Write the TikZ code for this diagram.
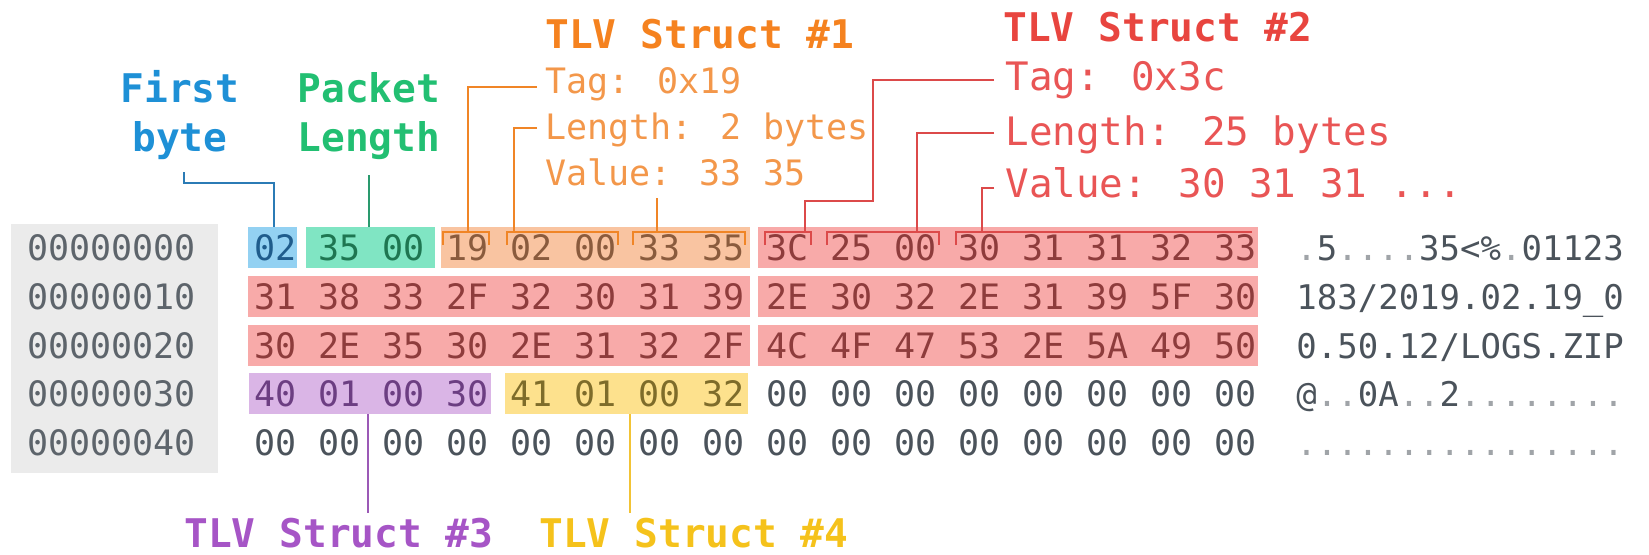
\documentclass[tikz,border=0pt]{standalone}
\usepackage{fontspec}
\newfontfamily\monofnt{DejaVu Sans Mono}

% fills of the highlighted byte ranges
\definecolor{boxB}{HTML}{93D1F2}
\definecolor{boxG}{HTML}{80E5C3}
\definecolor{boxO}{HTML}{F9C4A1}
\definecolor{boxR}{HTML}{F8AAA9}
\definecolor{boxP}{HTML}{DAB5E6}
\definecolor{boxY}{HTML}{FDE18D}
\definecolor{boxGray}{HTML}{EBEBEB}
% byte text colours
\definecolor{tB}{HTML}{1F5C8C}
\definecolor{tG}{HTML}{1E7651}
\definecolor{tO}{HTML}{8A5B3D}
\definecolor{tR}{HTML}{8E3C3C}
\definecolor{tP}{HTML}{6C3E82}
\definecolor{tY}{HTML}{7E6C2A}
\definecolor{tN}{HTML}{4B535B}
\definecolor{dotc}{HTML}{A0A4A8}
% label and leader colours
\definecolor{cB}{HTML}{1E90D6}
\definecolor{lB}{HTML}{2B7BB5}
\definecolor{cG}{HTML}{22BF72}
\definecolor{lG}{HTML}{2A9A6E}
\definecolor{cO}{HTML}{F5821F}
\definecolor{aO}{HTML}{F3974A}
\definecolor{lO}{HTML}{F08526}
\definecolor{cR}{HTML}{E8453F}
\definecolor{aR}{HTML}{E95555}
\definecolor{lR}{HTML}{DC4A4A}
\definecolor{cP}{HTML}{A655C6}
\definecolor{lP}{HTML}{9B59B6}
\definecolor{cY}{HTML}{F5C21B}
\definecolor{lY}{HTML}{F2C335}

% a non-printable byte in the ASCII column
\newcommand\npc{{\color{dotc}.}}

\begin{document}
\begin{tikzpicture}[x=0.5pt,y=-0.5pt,
  hexnum/.style={anchor=base west, inner sep=0pt, font=\monofnt\fontsize{17.5}{17.5}\selectfont},
  ascii/.style={anchor=base west, inner sep=0pt, font=\monofnt\fontsize{17}{17}\selectfont},
  annot/.style={anchor=base west, inner sep=0pt, font=\monofnt\fontsize{17.5}{17.5}\selectfont},
  annotbig/.style={anchor=base west, inner sep=0pt, font=\monofnt\fontsize{19.6}{19.6}\selectfont},
  heading/.style={inner sep=0pt, font=\monofnt\bfseries\fontsize{19.75}{19.75}\selectfont},
  lead/.style={line width=0.9pt},
  brk/.style={line width=0.9pt}
]
\useasboundingbox (0,0) rectangle (1649,554);

% ---------- background ranges ----------
\fill[boxGray] (11,224) rectangle (218,473);
\fill[boxB] (248,227) rectangle (297,268);
\fill[boxG] (306,227) rectangle (435,268);
\fill[boxO] (441,227) rectangle (750,268);
\fill[boxR] (758,227) rectangle (1258,268);
\foreach \r in {1,2}{
  \fill[boxR] (248,{227+48.75*\r}) rectangle (750,{268+48.75*\r});
  \fill[boxR] (758,{227+48.75*\r}) rectangle (1258,{268+48.75*\r});
}
\fill[boxP] (249,373.25) rectangle (491,414.25);
\fill[boxY] (505,373.25) rectangle (748,414.25);

% ---------- offsets ----------
\foreach \o [count=\r from 0] in {00000000,00000010,00000020,00000030,00000040}
  \node[hexnum,text=tN!90] (off\r) at (27,{260.7+48.75*\r}) {\o};

% ---------- hex bytes ----------
\foreach \v/\cl [count=\c from 0] in {02/tB,35/tG,00/tG,19/tO,02/tO,00/tO,33/tO,35/tO,3C/tR,25/tR,00/tR,30/tR,31/tR,31/tR,32/tR,33/tR}
  \node[hexnum,text=\cl] (b0-\c) at ({254+64*\c},260.7) {\v};
\foreach \v [count=\c from 0] in {31,38,33,2F,32,30,31,39,2E,30,32,2E,31,39,5F,30}
  \node[hexnum,text=tR] (b1-\c) at ({254+64*\c},309.45) {\v};
\foreach \v [count=\c from 0] in {30,2E,35,30,2E,31,32,2F,4C,4F,47,53,2E,5A,49,50}
  \node[hexnum,text=tR] (b2-\c) at ({254+64*\c},358.2) {\v};
\foreach \v/\cl [count=\c from 0] in {40/tP,01/tP,00/tP,30/tP,41/tY,01/tY,00/tY,32/tY,00/tN,00/tN,00/tN,00/tN,00/tN,00/tN,00/tN,00/tN}
  \node[hexnum,text=\cl] (b3-\c) at ({254+64*\c},406.95) {\v};
\foreach \c in {0,...,15}
  \node[hexnum,text=tN] (b4-\c) at ({254+64*\c},455.7) {00};

% ---------- ASCII column ----------
\node[ascii,text=tN] (asc0) at (1296,260.7) {\npc5\npc\npc\npc\npc35<\%\npc01123};
\node[ascii,text=tN] (asc1) at (1296,309.45) {183/2019.02.19\_0};
\node[ascii,text=tN] (asc2) at (1296,358.2) {0.50.12/LOGS.ZIP};
\node[ascii,text=tN] (asc3) at (1296,406.95) {@\npc\npc0A\npc\npc2\npc\npc\npc\npc\npc\npc\npc\npc};
\node[ascii,text=tN] (asc4) at (1296,455.7) {\npc\npc\npc\npc\npc\npc\npc\npc\npc\npc\npc\npc\npc\npc\npc\npc};

% ---------- field brackets over the TLV bytes ----------
\draw[brk,lO] (443,245) -- (443,232) -- (489,232) -- (489,245);
\draw[brk,lO] (507,245) -- (507,232) -- (618,232) -- (618,245);
\draw[brk,lO] (633,245) -- (633,232) -- (745,232) -- (745,245);
\draw[brk,lR] (765,245) -- (765,232) -- (811,232) -- (811,245);
\draw[brk,lR] (827,245) -- (827,232) -- (939,232) -- (939,245);
\draw[brk,lR] (956,245) -- (956,232) -- (1252,232);

% ---------- labels ----------
\node[heading,text=cB,anchor=base] (first) at (180,102) {First};
\node[heading,text=cB,anchor=base] (byte) at (180,151) {byte};
\node[heading,text=cG,anchor=base] (packet) at (369,102) {Packet};
\node[heading,text=cG,anchor=base] (plen) at (369,151) {Length};

\node[heading,text=cO,anchor=base west] (tlv1) at (545,48) {TLV Struct \#1};
\node[annot,text=aO] (tag1) at (545,93) {Tag: 0x19};
\node[annot,text=aO] (len1) at (545,139) {Length: 2 bytes};
\node[annot,text=aO] (val1) at (545,185) {Value: 33 35};

\node[heading,text=cR,anchor=base west] (tlv2) at (1003,41) {TLV Struct \#2};
\node[annotbig,text=aR] (tag2) at (1005,90) {Tag: 0x3c};
\node[annotbig,text=aR] (len2) at (1005,145) {Length: 25 bytes};
\node[annotbig,text=aR] (val2) at (1005,197) {Value: 30 31 31 ...};

\node[heading,text=cP,anchor=base west,text depth=0pt] (tlv3) at (184,547) {TLV Struct \#3};
\node[heading,text=cY,anchor=base west,text depth=0pt] (tlv4) at (539,547) {TLV Struct \#4};

% ---------- leader end points ----------
\coordinate (pFirst) at (184,172);
\coordinate (qFirst) at (274,227);
\coordinate (pLen) at (369,175);
\coordinate (qLen) at (369,227);
\coordinate (pTag1) at (537,87);
\coordinate (qTag1) at (468,232);
\coordinate (pLen1) at (537,128);
\coordinate (qLen1) at (514,232);
\coordinate (pVal1) at (657,198);
\coordinate (qVal1) at (657,232);
\coordinate (pTag2) at (994,80);
\coordinate (kTag2) at (873,201);
\coordinate (qTag2) at (805,232);
\coordinate (pLen2) at (994,133);
\coordinate (qLen2) at (917,232);
\coordinate (pVal2) at (994,188);
\coordinate (qVal2) at (982,232);
\coordinate (pS3) at (368,414.25);
\coordinate (qS3) at (368,513);
\coordinate (pS4) at (630,414.25);
\coordinate (qS4) at (630,513);

% ---------- leaders ----------
\draw[lead,lB] (pFirst) |- (274,183) -- (qFirst);
\draw[lead,lG] (pLen) -- (qLen);
\draw[lead,lO] (pTag1) -| (qTag1);
\draw[lead,lO] (pLen1) -| (qLen1);
\draw[lead,lO] (pVal1) -- (qVal1);
\draw[lead,lR] (pTag2) -| (kTag2) -| (qTag2);
\draw[lead,lR] (pLen2) -| (qLen2);
\draw[lead,lR] (pVal2) -| (qVal2);
\draw[lead,lP] (pS3) -- (qS3);
\draw[lead,lY] (pS4) -- (qS4);
\end{tikzpicture}
\end{document}
